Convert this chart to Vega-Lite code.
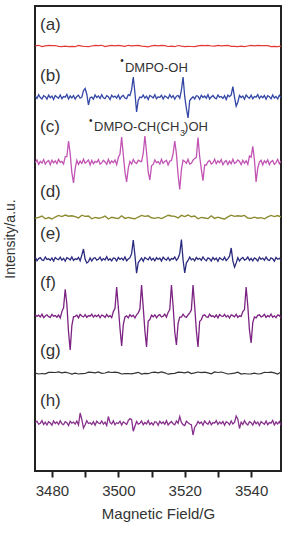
{
"$schema":"https://vega.github.io/schema/vega-lite/v6.json",
"autosize":{"type":"none"},
"padding":{"left":35,"top":6,"right":15,"bottom":62},
"width":246,
"height":465,
"config":{"font":"Liberation Sans","view":{"stroke":"#222","strokeWidth":2}},
"datasets":{
"a":[{"x":3475,"y":425.2},{"x":3476,"y":425.7},{"x":3477,"y":424.4},{"x":3478,"y":425.1},{"x":3479,"y":425.6},{"x":3480,"y":425.3},{"x":3481,"y":425.5},{"x":3482,"y":424.6},{"x":3483,"y":424.4},{"x":3484,"y":424.9},{"x":3485,"y":424.4},{"x":3486,"y":424.7},{"x":3487,"y":424.3},{"x":3488,"y":425.6},{"x":3489,"y":424.9},{"x":3490,"y":424.5},{"x":3491,"y":424.4},{"x":3492,"y":425.0},{"x":3493,"y":425.6},{"x":3494,"y":425.3},{"x":3495,"y":425.7},{"x":3496,"y":424.4},{"x":3497,"y":425.1},{"x":3498,"y":425.6},{"x":3499,"y":425.2},{"x":3500,"y":425.6},{"x":3501,"y":425.2},{"x":3502,"y":424.7},{"x":3503,"y":425.7},{"x":3504,"y":425.1},{"x":3505,"y":425.4},{"x":3506,"y":425.6},{"x":3507,"y":424.8},{"x":3508,"y":424.6},{"x":3509,"y":424.2},{"x":3510,"y":425.2},{"x":3511,"y":425.7},{"x":3512,"y":425.1},{"x":3513,"y":425.6},{"x":3514,"y":425.3},{"x":3515,"y":424.5},{"x":3516,"y":424.8},{"x":3517,"y":424.3},{"x":3518,"y":425.5},{"x":3519,"y":424.9},{"x":3520,"y":424.4},{"x":3521,"y":424.7},{"x":3522,"y":424.5},{"x":3523,"y":424.4},{"x":3524,"y":425.2},{"x":3525,"y":425.6},{"x":3526,"y":425.3},{"x":3527,"y":425.7},{"x":3528,"y":425.0},{"x":3529,"y":424.8},{"x":3530,"y":425.6},{"x":3531,"y":425.2},{"x":3532,"y":425.4},{"x":3533,"y":425.6},{"x":3534,"y":424.7},{"x":3535,"y":424.6},{"x":3536,"y":424.4},{"x":3537,"y":424.8},{"x":3538,"y":424.3},{"x":3539,"y":425.0},{"x":3540,"y":425.6},{"x":3541,"y":425.2},{"x":3542,"y":425.7},{"x":3543,"y":425.3},{"x":3544,"y":425.5},{"x":3545,"y":425.4},{"x":3546,"y":424.4},{"x":3547,"y":424.7},{"x":3548,"y":424.4},{"x":3549,"y":424.8}],
"b":[{"x":3475,"y":374.8},{"x":3475.5,"y":372.5},{"x":3476,"y":376.3},{"x":3476.5,"y":373.5},{"x":3477,"y":372.0},{"x":3477.5,"y":375.3},{"x":3478,"y":374.3},{"x":3478.5,"y":371.8},{"x":3479,"y":375.8},{"x":3479.5,"y":373.3},{"x":3480,"y":375.0},{"x":3480.5,"y":371.5},{"x":3481,"y":375.5},{"x":3481.5,"y":374.0},{"x":3482,"y":372.8},{"x":3482.5,"y":376.0},{"x":3483,"y":372.3},{"x":3483.5,"y":374.5},{"x":3484,"y":373.8},{"x":3484.5,"y":376.5},{"x":3485,"y":372.0},{"x":3485.5,"y":375.0},{"x":3486,"y":373.0},{"x":3486.5,"y":375.5},{"x":3487,"y":371.8},{"x":3487.5,"y":374.5},{"x":3488,"y":375.8},{"x":3488.5,"y":372.8},{"x":3489,"y":373.8},{"x":3489.5,"y":380.3},{"x":3490,"y":382.5},{"x":3490.5,"y":376.8},{"x":3491,"y":366.0},{"x":3491.5,"y":373.3},{"x":3492,"y":374.0},{"x":3492.5,"y":371.8},{"x":3493,"y":376.0},{"x":3493.5,"y":373.5},{"x":3494,"y":375.0},{"x":3494.5,"y":372.5},{"x":3495,"y":376.3},{"x":3495.5,"y":373.3},{"x":3496,"y":372.3},{"x":3496.5,"y":375.3},{"x":3497,"y":374.3},{"x":3497.5,"y":371.5},{"x":3498,"y":375.8},{"x":3498.5,"y":373.8},{"x":3499,"y":374.8},{"x":3499.5,"y":372.8},{"x":3500,"y":376.0},{"x":3500.5,"y":372.0},{"x":3501,"y":374.5},{"x":3501.5,"y":375.5},{"x":3502,"y":373.0},{"x":3502.5,"y":372.3},{"x":3503,"y":376.3},{"x":3503.5,"y":375.5},{"x":3504,"y":381.3},{"x":3504.5,"y":394.0},{"x":3505,"y":378.3},{"x":3505.5,"y":359.0},{"x":3506,"y":370.8},{"x":3506.5,"y":374.0},{"x":3507,"y":373.3},{"x":3507.5,"y":376.0},{"x":3508,"y":372.8},{"x":3508.5,"y":374.8},{"x":3509,"y":371.5},{"x":3509.5,"y":375.5},{"x":3510,"y":374.5},{"x":3510.5,"y":373.0},{"x":3511,"y":376.3},{"x":3511.5,"y":372.3},{"x":3512,"y":374.3},{"x":3512.5,"y":373.5},{"x":3513,"y":375.8},{"x":3513.5,"y":372.0},{"x":3514,"y":375.0},{"x":3514.5,"y":374.0},{"x":3515,"y":372.5},{"x":3515.5,"y":376.3},{"x":3516,"y":373.3},{"x":3516.5,"y":375.3},{"x":3517,"y":371.8},{"x":3517.5,"y":374.8},{"x":3518,"y":375.5},{"x":3518.5,"y":372.8},{"x":3519,"y":380.8},{"x":3519.5,"y":394.0},{"x":3520,"y":374.3},{"x":3520.5,"y":362.5},{"x":3521,"y":353.0},{"x":3521.5,"y":370.5},{"x":3522,"y":372.5},{"x":3522.5,"y":374.3},{"x":3523,"y":372.0},{"x":3523.5,"y":375.3},{"x":3524,"y":374.8},{"x":3524.5,"y":371.8},{"x":3525,"y":375.8},{"x":3525.5,"y":373.5},{"x":3526,"y":375.0},{"x":3526.5,"y":372.8},{"x":3527,"y":376.3},{"x":3527.5,"y":372.0},{"x":3528,"y":374.0},{"x":3528.5,"y":375.5},{"x":3529,"y":373.3},{"x":3529.5,"y":372.3},{"x":3530,"y":376.0},{"x":3530.5,"y":373.8},{"x":3531,"y":374.5},{"x":3531.5,"y":372.5},{"x":3532,"y":375.3},{"x":3532.5,"y":371.5},{"x":3533,"y":375.8},{"x":3533.5,"y":374.3},{"x":3534,"y":376.0},{"x":3534.5,"y":384.3},{"x":3535,"y":373.8},{"x":3535.5,"y":364.8},{"x":3536,"y":369.0},{"x":3536.5,"y":375.5},{"x":3537,"y":373.5},{"x":3537.5,"y":375.0},{"x":3538,"y":371.8},{"x":3538.5,"y":376.0},{"x":3539,"y":374.0},{"x":3539.5,"y":372.8},{"x":3540,"y":375.8},{"x":3540.5,"y":372.3},{"x":3541,"y":374.5},{"x":3541.5,"y":373.8},{"x":3542,"y":376.3},{"x":3542.5,"y":372.5},{"x":3543,"y":375.0},{"x":3543.5,"y":373.3},{"x":3544,"y":375.5},{"x":3544.5,"y":371.8},{"x":3545,"y":375.3},{"x":3545.5,"y":374.3},{"x":3546,"y":372.3},{"x":3546.5,"y":376.0},{"x":3547,"y":373.0},{"x":3547.5,"y":374.5},{"x":3548,"y":372.0},{"x":3548.5,"y":375.8},{"x":3549,"y":373.5}],
"c":[{"x":3475,"y":308.4},{"x":3475.5,"y":311.1},{"x":3476,"y":306.6},{"x":3476.5,"y":309.6},{"x":3477,"y":307.8},{"x":3477.5,"y":311.4},{"x":3478,"y":306.9},{"x":3478.5,"y":309.3},{"x":3479,"y":310.5},{"x":3479.5,"y":306.3},{"x":3480,"y":310.8},{"x":3480.5,"y":308.1},{"x":3481,"y":310.2},{"x":3481.5,"y":307.2},{"x":3482,"y":311.7},{"x":3482.5,"y":308.7},{"x":3483,"y":309.6},{"x":3483.5,"y":306.9},{"x":3484,"y":314.1},{"x":3484.5,"y":314.5},{"x":3485,"y":330.0},{"x":3485.5,"y":317.4},{"x":3486,"y":298.3},{"x":3486.5,"y":288.0},{"x":3487,"y":302.4},{"x":3487.5,"y":310.8},{"x":3488,"y":306.6},{"x":3488.5,"y":309.9},{"x":3489,"y":307.5},{"x":3489.5,"y":311.7},{"x":3490,"y":307.8},{"x":3490.5,"y":309.3},{"x":3491,"y":311.1},{"x":3491.5,"y":306.0},{"x":3492,"y":310.5},{"x":3492.5,"y":307.2},{"x":3493,"y":309.6},{"x":3493.5,"y":308.7},{"x":3494,"y":311.4},{"x":3494.5,"y":306.9},{"x":3495,"y":308.1},{"x":3495.5,"y":310.8},{"x":3496,"y":309.0},{"x":3496.5,"y":306.6},{"x":3497,"y":311.7},{"x":3497.5,"y":307.5},{"x":3498,"y":310.2},{"x":3498.5,"y":308.4},{"x":3499,"y":311.1},{"x":3499.5,"y":306.3},{"x":3500,"y":313.5},{"x":3500.5,"y":316.9},{"x":3501,"y":334.0},{"x":3501.5,"y":316.3},{"x":3502,"y":299.2},{"x":3502.5,"y":289.0},{"x":3503,"y":302.8},{"x":3503.5,"y":309.6},{"x":3504,"y":306.9},{"x":3504.5,"y":311.4},{"x":3505,"y":308.7},{"x":3505.5,"y":307.5},{"x":3506,"y":310.8},{"x":3506.5,"y":309.9},{"x":3507,"y":309.3},{"x":3507.5,"y":317.5},{"x":3508,"y":335.0},{"x":3508.5,"y":318.7},{"x":3509,"y":299.2},{"x":3509.5,"y":291.0},{"x":3510,"y":305.2},{"x":3510.5,"y":306.6},{"x":3511,"y":311.1},{"x":3511.5,"y":308.4},{"x":3512,"y":309.3},{"x":3512.5,"y":306.9},{"x":3513,"y":311.7},{"x":3513.5,"y":307.8},{"x":3514,"y":309.6},{"x":3514.5,"y":310.8},{"x":3515,"y":306.0},{"x":3515.5,"y":309.9},{"x":3516,"y":310.5},{"x":3516.5,"y":317.4},{"x":3517,"y":330.0},{"x":3517.5,"y":317.1},{"x":3518,"y":296.3},{"x":3518.5,"y":281.5},{"x":3519,"y":301.4},{"x":3519.5,"y":310.8},{"x":3520,"y":309.6},{"x":3520.5,"y":307.8},{"x":3521,"y":311.7},{"x":3521.5,"y":306.9},{"x":3522,"y":307.8},{"x":3522.5,"y":310.8},{"x":3523,"y":312.6},{"x":3523.5,"y":313.6},{"x":3524,"y":333.4},{"x":3524.5,"y":314.5},{"x":3525,"y":301.9},{"x":3525.5,"y":290.4},{"x":3526,"y":306.1},{"x":3526.5,"y":306.0},{"x":3527,"y":309.3},{"x":3527.5,"y":310.5},{"x":3528,"y":306.9},{"x":3528.5,"y":308.1},{"x":3529,"y":311.7},{"x":3529.5,"y":307.2},{"x":3530,"y":310.2},{"x":3530.5,"y":308.4},{"x":3531,"y":311.4},{"x":3531.5,"y":306.3},{"x":3532,"y":309.0},{"x":3532.5,"y":310.5},{"x":3533,"y":306.6},{"x":3533.5,"y":309.9},{"x":3534,"y":307.2},{"x":3534.5,"y":311.7},{"x":3535,"y":307.5},{"x":3535.5,"y":308.7},{"x":3536,"y":311.1},{"x":3536.5,"y":309.6},{"x":3537,"y":306.3},{"x":3537.5,"y":310.8},{"x":3538,"y":307.8},{"x":3538.5,"y":310.2},{"x":3539,"y":306.6},{"x":3539.5,"y":315.0},{"x":3540,"y":313.7},{"x":3540.5,"y":324.7},{"x":3541,"y":311.0},{"x":3541.5,"y":289.0},{"x":3542,"y":303.0},{"x":3542.5,"y":309.0},{"x":3543,"y":310.8},{"x":3543.5,"y":306.0},{"x":3544,"y":310.2},{"x":3544.5,"y":308.1},{"x":3545,"y":311.1},{"x":3545.5,"y":306.3},{"x":3546,"y":309.3},{"x":3546.5,"y":310.5},{"x":3547,"y":306.6},{"x":3547.5,"y":308.4},{"x":3548,"y":311.7},{"x":3548.5,"y":307.2},{"x":3549,"y":309.9}],
"d":[{"x":3475,"y":252.8},{"x":3476,"y":253.6},{"x":3477,"y":255.0},{"x":3478,"y":252.2},{"x":3479,"y":253.4},{"x":3480,"y":252.0},{"x":3481,"y":254.0},{"x":3482,"y":255.6},{"x":3483,"y":254.4},{"x":3484,"y":256.0},{"x":3485,"y":254.8},{"x":3486,"y":255.2},{"x":3487,"y":254.4},{"x":3488,"y":253.0},{"x":3489,"y":255.8},{"x":3490,"y":254.6},{"x":3491,"y":255.0},{"x":3492,"y":252.2},{"x":3493,"y":253.6},{"x":3494,"y":252.8},{"x":3495,"y":253.4},{"x":3496,"y":255.0},{"x":3497,"y":252.0},{"x":3498,"y":253.8},{"x":3499,"y":253.0},{"x":3500,"y":252.4},{"x":3501,"y":255.2},{"x":3502,"y":252.6},{"x":3503,"y":253.6},{"x":3504,"y":252.8},{"x":3505,"y":252.2},{"x":3506,"y":254.0},{"x":3507,"y":255.6},{"x":3508,"y":254.6},{"x":3509,"y":255.2},{"x":3510,"y":253.2},{"x":3511,"y":252.6},{"x":3512,"y":253.6},{"x":3513,"y":252.4},{"x":3514,"y":254.0},{"x":3515,"y":255.8},{"x":3516,"y":255.0},{"x":3517,"y":254.6},{"x":3518,"y":253.0},{"x":3519,"y":255.6},{"x":3520,"y":254.4},{"x":3521,"y":256.0},{"x":3522,"y":254.2},{"x":3523,"y":255.0},{"x":3524,"y":252.2},{"x":3525,"y":253.6},{"x":3526,"y":253.0},{"x":3527,"y":252.4},{"x":3528,"y":255.2},{"x":3529,"y":252.6},{"x":3530,"y":253.8},{"x":3531,"y":252.8},{"x":3532,"y":252.0},{"x":3533,"y":254.2},{"x":3534,"y":255.8},{"x":3535,"y":254.6},{"x":3536,"y":255.2},{"x":3537,"y":254.8},{"x":3538,"y":255.6},{"x":3539,"y":253.0},{"x":3540,"y":252.6},{"x":3541,"y":253.8},{"x":3542,"y":252.8},{"x":3543,"y":253.4},{"x":3544,"y":252.2},{"x":3545,"y":254.2},{"x":3546,"y":255.6},{"x":3547,"y":254.4},{"x":3548,"y":255.4},{"x":3549,"y":254.0}],
"e":[{"x":3475,"y":213.8},{"x":3475.5,"y":210.2},{"x":3476,"y":212.4},{"x":3476.5,"y":213.3},{"x":3477,"y":211.1},{"x":3477.5,"y":210.5},{"x":3478,"y":214.0},{"x":3478.5,"y":211.6},{"x":3479,"y":212.2},{"x":3479.5,"y":210.7},{"x":3480,"y":213.1},{"x":3480.5,"y":210.0},{"x":3481,"y":213.5},{"x":3481.5,"y":212.0},{"x":3482,"y":211.3},{"x":3482.5,"y":213.8},{"x":3483,"y":210.9},{"x":3483.5,"y":212.7},{"x":3484,"y":209.8},{"x":3484.5,"y":213.3},{"x":3485,"y":212.4},{"x":3485.5,"y":211.1},{"x":3486,"y":214.0},{"x":3486.5,"y":210.5},{"x":3487,"y":212.2},{"x":3487.5,"y":211.6},{"x":3488,"y":213.5},{"x":3488.5,"y":210.2},{"x":3489,"y":215.9},{"x":3489.5,"y":222.0},{"x":3490,"y":211.7},{"x":3490.5,"y":208.0},{"x":3491,"y":209.3},{"x":3491.5,"y":213.1},{"x":3492,"y":210.0},{"x":3492.5,"y":212.7},{"x":3493,"y":213.3},{"x":3493.5,"y":210.9},{"x":3494,"y":211.8},{"x":3494.5,"y":213.8},{"x":3495,"y":210.5},{"x":3495.5,"y":212.4},{"x":3496,"y":211.1},{"x":3496.5,"y":214.2},{"x":3497,"y":210.7},{"x":3497.5,"y":212.2},{"x":3498,"y":210.2},{"x":3498.5,"y":213.1},{"x":3499,"y":212.7},{"x":3499.5,"y":210.0},{"x":3500,"y":213.5},{"x":3500.5,"y":211.6},{"x":3501,"y":212.9},{"x":3501.5,"y":210.9},{"x":3502,"y":214.0},{"x":3502.5,"y":210.2},{"x":3503,"y":212.0},{"x":3503.5,"y":213.3},{"x":3504,"y":217.3},{"x":3504.5,"y":231.0},{"x":3505,"y":215.8},{"x":3505.5,"y":197.8},{"x":3506,"y":208.4},{"x":3506.5,"y":210.7},{"x":3507,"y":213.1},{"x":3507.5,"y":209.8},{"x":3508,"y":213.5},{"x":3508.5,"y":212.2},{"x":3509,"y":211.1},{"x":3509.5,"y":214.0},{"x":3510,"y":210.9},{"x":3510.5,"y":212.7},{"x":3511,"y":210.2},{"x":3511.5,"y":213.3},{"x":3512,"y":211.6},{"x":3512.5,"y":212.9},{"x":3513,"y":210.0},{"x":3513.5,"y":213.8},{"x":3514,"y":212.0},{"x":3514.5,"y":210.9},{"x":3515,"y":213.5},{"x":3515.5,"y":210.5},{"x":3516,"y":212.4},{"x":3516.5,"y":211.8},{"x":3517,"y":214.0},{"x":3517.5,"y":210.7},{"x":3518,"y":212.9},{"x":3518.5,"y":217.3},{"x":3519,"y":231.5},{"x":3519.5,"y":211.0},{"x":3520,"y":198.0},{"x":3520.5,"y":208.2},{"x":3521,"y":210.5},{"x":3521.5,"y":213.8},{"x":3522,"y":211.1},{"x":3522.5,"y":212.4},{"x":3523,"y":210.2},{"x":3523.5,"y":213.5},{"x":3524,"y":211.6},{"x":3524.5,"y":212.7},{"x":3525,"y":210.7},{"x":3525.5,"y":214.0},{"x":3526,"y":211.6},{"x":3526.5,"y":210.2},{"x":3527,"y":213.1},{"x":3527.5,"y":212.2},{"x":3528,"y":210.0},{"x":3528.5,"y":213.5},{"x":3529,"y":211.3},{"x":3529.5,"y":212.9},{"x":3530,"y":209.8},{"x":3530.5,"y":213.3},{"x":3531,"y":212.0},{"x":3531.5,"y":210.9},{"x":3532,"y":213.8},{"x":3532.5,"y":210.5},{"x":3533,"y":212.4},{"x":3533.5,"y":214.8},{"x":3534,"y":223.0},{"x":3534.5,"y":210.2},{"x":3535,"y":203.9},{"x":3535.5,"y":208.1},{"x":3536,"y":213.3},{"x":3536.5,"y":210.0},{"x":3537,"y":212.4},{"x":3537.5,"y":213.5},{"x":3538,"y":210.9},{"x":3538.5,"y":211.8},{"x":3539,"y":214.0},{"x":3539.5,"y":210.7},{"x":3540,"y":212.7},{"x":3540.5,"y":210.2},{"x":3541,"y":213.1},{"x":3541.5,"y":212.0},{"x":3542,"y":210.0},{"x":3542.5,"y":213.8},{"x":3543,"y":211.6},{"x":3543.5,"y":212.9},{"x":3544,"y":210.7},{"x":3544.5,"y":214.0},{"x":3545,"y":211.3},{"x":3545.5,"y":210.5},{"x":3546,"y":213.1},{"x":3546.5,"y":212.2},{"x":3547,"y":209.8},{"x":3547.5,"y":213.5},{"x":3548,"y":211.8},{"x":3548.5,"y":212.7},{"x":3549,"y":210.9}],
"f":[{"x":3475,"y":156.4},{"x":3475.5,"y":154.6},{"x":3476,"y":155.8},{"x":3476.5,"y":154.0},{"x":3477,"y":156.8},{"x":3477.5,"y":153.4},{"x":3478,"y":155.0},{"x":3478.5,"y":156.2},{"x":3479,"y":154.4},{"x":3479.5,"y":153.6},{"x":3480,"y":156.6},{"x":3480.5,"y":154.8},{"x":3481,"y":155.4},{"x":3481.5,"y":153.8},{"x":3482,"y":156.0},{"x":3482.5,"y":153.0},{"x":3483,"y":159.4},{"x":3483.5,"y":163.2},{"x":3484,"y":181.7},{"x":3484.5,"y":166.8},{"x":3485,"y":139.0},{"x":3485.5,"y":121.0},{"x":3486,"y":145.4},{"x":3486.5,"y":154.2},{"x":3487,"y":154.6},{"x":3487.5,"y":155.8},{"x":3488,"y":153.2},{"x":3488.5,"y":156.6},{"x":3489,"y":155.0},{"x":3489.5,"y":154.0},{"x":3490,"y":156.4},{"x":3490.5,"y":153.6},{"x":3491,"y":155.4},{"x":3491.5,"y":154.8},{"x":3492,"y":156.8},{"x":3492.5,"y":153.8},{"x":3493,"y":155.8},{"x":3493.5,"y":154.4},{"x":3494,"y":156.2},{"x":3494.5,"y":153.2},{"x":3495,"y":156.0},{"x":3495.5,"y":155.2},{"x":3496,"y":153.6},{"x":3496.5,"y":156.6},{"x":3497,"y":154.2},{"x":3497.5,"y":155.4},{"x":3498,"y":153.4},{"x":3498.5,"y":159.4},{"x":3499,"y":162.6},{"x":3499.5,"y":184.0},{"x":3500,"y":163.8},{"x":3500.5,"y":142.8},{"x":3501,"y":125.0},{"x":3501.5,"y":146.4},{"x":3502,"y":154.0},{"x":3502.5,"y":155.2},{"x":3503,"y":153.2},{"x":3503.5,"y":156.4},{"x":3504,"y":154.4},{"x":3504.5,"y":155.8},{"x":3505,"y":153.0},{"x":3505.5,"y":156.2},{"x":3506,"y":158.0},{"x":3506.5,"y":162.0},{"x":3507,"y":186.0},{"x":3507.5,"y":163.6},{"x":3508,"y":140.4},{"x":3508.5,"y":124.0},{"x":3509,"y":150.0},{"x":3509.5,"y":151.4},{"x":3510,"y":155.8},{"x":3510.5,"y":154.2},{"x":3511,"y":156.2},{"x":3511.5,"y":153.2},{"x":3512,"y":155.4},{"x":3512.5,"y":156.4},{"x":3513,"y":154.0},{"x":3513.5,"y":154.8},{"x":3514,"y":156.8},{"x":3514.5,"y":153.8},{"x":3515,"y":158.6},{"x":3515.5,"y":161.4},{"x":3516,"y":186.0},{"x":3516.5,"y":165.0},{"x":3517,"y":139.2},{"x":3517.5,"y":126.0},{"x":3518,"y":147.6},{"x":3518.5,"y":153.8},{"x":3519,"y":153.8},{"x":3519.5,"y":156.8},{"x":3520,"y":154.4},{"x":3520.5,"y":153.6},{"x":3521,"y":156.0},{"x":3521.5,"y":158.2},{"x":3522,"y":161.0},{"x":3522.5,"y":186.0},{"x":3523,"y":164.8},{"x":3523.5,"y":140.6},{"x":3524,"y":124.0},{"x":3524.5,"y":149.6},{"x":3525,"y":151.4},{"x":3525.5,"y":155.4},{"x":3526,"y":156.2},{"x":3526.5,"y":154.2},{"x":3527,"y":153.6},{"x":3527.5,"y":156.8},{"x":3528,"y":154.6},{"x":3528.5,"y":155.2},{"x":3529,"y":153.8},{"x":3529.5,"y":156.0},{"x":3530,"y":153.2},{"x":3530.5,"y":156.4},{"x":3531,"y":155.0},{"x":3531.5,"y":154.4},{"x":3532,"y":156.6},{"x":3532.5,"y":154.0},{"x":3533,"y":155.6},{"x":3533.5,"y":153.0},{"x":3534,"y":156.2},{"x":3534.5,"y":155.4},{"x":3535,"y":154.2},{"x":3535.5,"y":156.8},{"x":3536,"y":153.6},{"x":3536.5,"y":155.2},{"x":3537,"y":154.6},{"x":3537.5,"y":159.4},{"x":3538,"y":161.4},{"x":3538.5,"y":184.0},{"x":3539,"y":165.0},{"x":3539.5,"y":140.8},{"x":3540,"y":128.0},{"x":3540.5,"y":148.4},{"x":3541,"y":154.0},{"x":3541.5,"y":153.2},{"x":3542,"y":155.6},{"x":3542.5,"y":156.2},{"x":3543,"y":154.0},{"x":3543.5,"y":154.8},{"x":3544,"y":156.6},{"x":3544.5,"y":153.6},{"x":3545,"y":155.4},{"x":3545.5,"y":154.2},{"x":3546,"y":157.0},{"x":3546.5,"y":153.8},{"x":3547,"y":155.2},{"x":3547.5,"y":153.4},{"x":3548,"y":156.0},{"x":3548.5,"y":155.6},{"x":3549,"y":153.2}],
"g":[{"x":3475,"y":97.8},{"x":3476,"y":97.0},{"x":3477,"y":97.5},{"x":3478,"y":97.2},{"x":3479,"y":98.6},{"x":3480,"y":98.7},{"x":3481,"y":98.5},{"x":3482,"y":99.1},{"x":3483,"y":98.2},{"x":3484,"y":98.8},{"x":3485,"y":98.0},{"x":3486,"y":96.9},{"x":3487,"y":97.8},{"x":3488,"y":97.0},{"x":3489,"y":97.4},{"x":3490,"y":97.5},{"x":3491,"y":98.8},{"x":3492,"y":98.6},{"x":3493,"y":98.2},{"x":3494,"y":99.0},{"x":3495,"y":97.6},{"x":3496,"y":98.0},{"x":3497,"y":99.1},{"x":3498,"y":98.5},{"x":3499,"y":98.8},{"x":3500,"y":98.4},{"x":3501,"y":97.0},{"x":3502,"y":97.3},{"x":3503,"y":97.5},{"x":3504,"y":97.2},{"x":3505,"y":97.9},{"x":3506,"y":98.7},{"x":3507,"y":96.9},{"x":3508,"y":97.6},{"x":3509,"y":97.3},{"x":3510,"y":98.5},{"x":3511,"y":98.8},{"x":3512,"y":98.1},{"x":3513,"y":99.1},{"x":3514,"y":98.2},{"x":3515,"y":96.8},{"x":3516,"y":97.4},{"x":3517,"y":97.6},{"x":3518,"y":98.8},{"x":3519,"y":98.6},{"x":3520,"y":98.1},{"x":3521,"y":99.1},{"x":3522,"y":97.5},{"x":3523,"y":98.2},{"x":3524,"y":99.0},{"x":3525,"y":98.4},{"x":3526,"y":98.8},{"x":3527,"y":98.1},{"x":3528,"y":97.2},{"x":3529,"y":99.1},{"x":3530,"y":98.5},{"x":3531,"y":99.0},{"x":3532,"y":98.0},{"x":3533,"y":97.0},{"x":3534,"y":97.3},{"x":3535,"y":97.9},{"x":3536,"y":98.8},{"x":3537,"y":96.9},{"x":3538,"y":97.5},{"x":3539,"y":97.0},{"x":3540,"y":97.2},{"x":3541,"y":97.9},{"x":3542,"y":97.0},{"x":3543,"y":97.4},{"x":3544,"y":98.7},{"x":3545,"y":98.5},{"x":3546,"y":98.8},{"x":3547,"y":98.1},{"x":3548,"y":97.0},{"x":3549,"y":99.1}],
"h":[{"x":3475,"y":48.5},{"x":3475.5,"y":49.8},{"x":3476,"y":46.8},{"x":3476.5,"y":47.8},{"x":3477,"y":50.3},{"x":3477.5,"y":46.5},{"x":3478,"y":48.8},{"x":3478.5,"y":46.0},{"x":3479,"y":49.3},{"x":3479.5,"y":48.0},{"x":3480,"y":45.8},{"x":3480.5,"y":50.0},{"x":3481,"y":47.5},{"x":3481.5,"y":49.0},{"x":3482,"y":46.5},{"x":3482.5,"y":50.3},{"x":3483,"y":47.3},{"x":3483.5,"y":46.3},{"x":3484,"y":49.3},{"x":3484.5,"y":48.3},{"x":3485,"y":45.5},{"x":3485.5,"y":49.8},{"x":3486,"y":47.8},{"x":3486.5,"y":48.8},{"x":3487,"y":46.8},{"x":3487.5,"y":50.0},{"x":3488,"y":46.0},{"x":3488.5,"y":58.0},{"x":3489,"y":51.5},{"x":3489.5,"y":43.0},{"x":3490,"y":46.3},{"x":3490.5,"y":50.3},{"x":3491,"y":47.5},{"x":3491.5,"y":48.3},{"x":3492,"y":46.5},{"x":3492.5,"y":49.3},{"x":3493,"y":45.8},{"x":3493.5,"y":49.8},{"x":3494,"y":48.0},{"x":3494.5,"y":47.3},{"x":3495,"y":50.0},{"x":3495.5,"y":46.8},{"x":3496,"y":48.8},{"x":3496.5,"y":45.5},{"x":3497,"y":54.5},{"x":3497.5,"y":48.5},{"x":3498,"y":47.0},{"x":3498.5,"y":50.3},{"x":3499,"y":46.3},{"x":3499.5,"y":48.3},{"x":3500,"y":47.5},{"x":3500.5,"y":49.8},{"x":3501,"y":46.0},{"x":3501.5,"y":49.0},{"x":3502,"y":48.0},{"x":3502.5,"y":46.5},{"x":3503,"y":50.3},{"x":3503.5,"y":52.3},{"x":3504,"y":51.3},{"x":3504.5,"y":39.8},{"x":3505,"y":44.8},{"x":3505.5,"y":49.5},{"x":3506,"y":46.8},{"x":3506.5,"y":47.8},{"x":3507,"y":50.0},{"x":3507.5,"y":46.3},{"x":3508,"y":48.5},{"x":3508.5,"y":47.0},{"x":3509,"y":50.5},{"x":3509.5,"y":46.5},{"x":3510,"y":48.3},{"x":3510.5,"y":46.0},{"x":3511,"y":49.3},{"x":3511.5,"y":48.8},{"x":3512,"y":45.8},{"x":3512.5,"y":49.8},{"x":3513,"y":47.5},{"x":3513.5,"y":49.0},{"x":3514,"y":46.8},{"x":3514.5,"y":50.3},{"x":3515,"y":46.0},{"x":3515.5,"y":48.0},{"x":3516,"y":49.5},{"x":3516.5,"y":47.3},{"x":3517,"y":46.3},{"x":3517.5,"y":50.0},{"x":3518,"y":47.8},{"x":3518.5,"y":54.5},{"x":3519,"y":48.5},{"x":3519.5,"y":46.3},{"x":3520,"y":45.5},{"x":3520.5,"y":49.8},{"x":3521,"y":48.3},{"x":3521.5,"y":47.0},{"x":3522,"y":46.3},{"x":3522.5,"y":36.0},{"x":3523,"y":43.8},{"x":3523.5,"y":46.0},{"x":3524,"y":49.5},{"x":3524.5,"y":47.5},{"x":3525,"y":49.0},{"x":3525.5,"y":45.8},{"x":3526,"y":50.0},{"x":3526.5,"y":48.0},{"x":3527,"y":46.8},{"x":3527.5,"y":49.8},{"x":3528,"y":46.3},{"x":3528.5,"y":48.5},{"x":3529,"y":47.8},{"x":3529.5,"y":50.3},{"x":3530,"y":46.5},{"x":3530.5,"y":49.0},{"x":3531,"y":47.3},{"x":3531.5,"y":49.5},{"x":3532,"y":45.8},{"x":3532.5,"y":49.3},{"x":3533,"y":48.3},{"x":3533.5,"y":46.3},{"x":3534,"y":50.0},{"x":3534.5,"y":47.0},{"x":3535,"y":48.5},{"x":3535.5,"y":55.0},{"x":3536,"y":51.8},{"x":3536.5,"y":42.5},{"x":3537,"y":48.8},{"x":3537.5,"y":46.5},{"x":3538,"y":50.3},{"x":3538.5,"y":47.5},{"x":3539,"y":46.0},{"x":3539.5,"y":49.3},{"x":3540,"y":48.3},{"x":3540.5,"y":45.8},{"x":3541,"y":49.8},{"x":3541.5,"y":47.3},{"x":3542,"y":49.0},{"x":3542.5,"y":45.5},{"x":3543,"y":49.5},{"x":3543.5,"y":48.0},{"x":3544,"y":46.8},{"x":3544.5,"y":50.0},{"x":3545,"y":46.3},{"x":3545.5,"y":48.5},{"x":3546,"y":47.8},{"x":3546.5,"y":50.5},{"x":3547,"y":46.0},{"x":3547.5,"y":49.0},{"x":3548,"y":47.0},{"x":3548.5,"y":49.5},{"x":3549,"y":45.8}],
"labels":[{"t":"(a)","x":3476.4,"y":446.5},{"t":"(b)","x":3476.4,"y":395.5},{"t":"(c)","x":3476.4,"y":344},{"t":"(d)","x":3476.4,"y":279},{"t":"(e)","x":3476.4,"y":237.5},{"t":"(f)","x":3476.4,"y":188},{"t":"(g)","x":3476.4,"y":120.5},{"t":"(h)","x":3476.4,"y":70.5}],
"notes":[{"t":"DMPO-OH","x":3502.0,"y":403},{"t":"DMPO-CH(CH","x":3492.7,"y":344},{"t":")OH","x":3519.8,"y":344}],
"dots":[{"t":"•","x":3501.1,"y":409.7},{"t":"•","x":3491.7,"y":349.7}],
"subs":[{"t":"3","x":3518.6,"y":337.8}]
},
"encoding":{
"x":{"field":"x","type":"quantitative","scale":{"domain":[3474.9,3549],"nice":false,"zero":false},
"axis":{"values":[3480,3490,3500,3510,3520,3530,3540],"format":"d","labelExpr":"datum.value % 20 === 0 ? datum.label : ''","grid":false,"domain":false,"tickSize":6,"tickWidth":2,"tickColor":"#222","labelFontSize":15,"labelColor":"#333","labelPadding":6,"title":"Magnetic Field/G","titleFontSize":15,"titleFontWeight":"normal","titleColor":"#333","titlePadding":8}},
"y":{"field":"y","type":"quantitative","scale":{"domain":[0,465],"nice":false,"zero":false},
"axis":{"title":"Intensity/a.u.","ticks":false,"labels":false,"domain":false,"grid":false,"titleFontSize":14,"titleFontWeight":"normal","titleColor":"#333","titlePadding":18}}
},
"layer":[
{"data":{"name":"a"},"mark":{"type":"line","color":"#e23a36","strokeWidth":1.2,"clip":true}},
{"data":{"name":"b"},"mark":{"type":"line","color":"#3346a6","strokeWidth":1.3,"clip":true}},
{"data":{"name":"c"},"mark":{"type":"line","color":"#c254b4","strokeWidth":1.3,"clip":true}},
{"data":{"name":"d"},"mark":{"type":"line","color":"#8c8a2e","strokeWidth":1.4,"clip":true}},
{"data":{"name":"e"},"mark":{"type":"line","color":"#2b2b80","strokeWidth":1.3,"clip":true}},
{"data":{"name":"f"},"mark":{"type":"line","color":"#7c2282","strokeWidth":1.3,"clip":true}},
{"data":{"name":"g"},"mark":{"type":"line","color":"#333333","strokeWidth":1.2,"clip":true}},
{"data":{"name":"h"},"mark":{"type":"line","color":"#87308c","strokeWidth":1.3,"clip":true}},
{"data":{"name":"labels"},"mark":{"type":"text","align":"left","baseline":"middle","fontSize":17,"color":"#333"},"encoding":{"text":{"field":"t"}}},
{"data":{"name":"notes"},"mark":{"type":"text","align":"left","baseline":"middle","fontSize":13,"color":"#333"},"encoding":{"text":{"field":"t"}}},
{"data":{"name":"dots"},"mark":{"type":"text","align":"center","baseline":"middle","fontSize":10,"color":"#222"},"encoding":{"text":{"field":"t"}}},
{"data":{"name":"subs"},"mark":{"type":"text","align":"left","baseline":"middle","fontSize":9,"color":"#333"},"encoding":{"text":{"field":"t"}}}
]
}
